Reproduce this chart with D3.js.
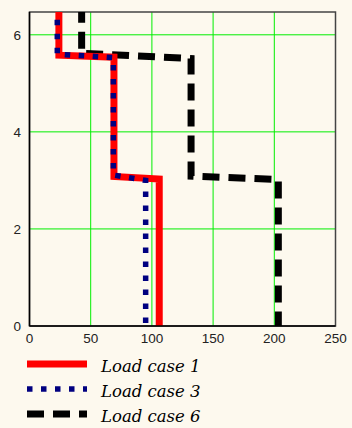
<!DOCTYPE html>
<html>
<head>
<meta charset="utf-8">
<script src="https://cdn.jsdelivr.net/npm/d3@7"></script>
<style>
  html, body { margin: 0; padding: 0; background: #fdf9ee; }
  svg { display: block; }
</style>
</head>
<body>
<div id="chart"></div>
<script>
// series data: x value (load), y value (height)
const lc1X = [24, 24, 69, 69, 106, 106];
const lc1Y = [6.6, 5.58, 5.54, 3.08, 3.03, 0];
const lc3X = [22.7, 22.7, 68.5, 68.5, 94.9, 94.9];
const lc3Y = [6.6, 5.6, 5.53, 3.11, 3.0, 0];
const lc6X = [42.6, 42.6, 132, 132, 203.3, 203.3];
const lc6Y = [6.6, 5.62, 5.51, 3.09, 3.02, 0];

const seriesNames = ['Load case 1', 'Load case 3', 'Load case 6'];
const xTicks = [0, 50, 100, 150, 200, 250];
const yTicks = [0, 2, 4, 6];

const width = 352, height = 428;
const margin = { top: 12, right: 16.5, bottom: 102, left: 29.5 };

const svg = d3.select('#chart').append('svg')
  .attr('width', width)
  .attr('height', height);

const x = d3.scaleLinear().domain([0, 250]).range([margin.left, width - margin.right]);
const y = d3.scaleLinear().domain([0, 6.47]).range([height - margin.bottom, margin.top]);

svg.append('defs').append('clipPath').attr('id', 'plot')
  .append('rect')
  .attr('x', x(0)).attr('y', y(6.47))
  .attr('width', x(250) - x(0)).attr('height', y(0) - y(6.47));

// grid
svg.append('g').selectAll('line')
  .data(xTicks.slice(1, -1))
  .join('line')
  .attr('x1', d => x(d)).attr('x2', d => x(d))
  .attr('y1', y(0)).attr('y2', y(6.47))
  .attr('stroke', '#00ee00').attr('stroke-width', 1);

svg.append('g').selectAll('line')
  .data(yTicks.slice(1))
  .join('line')
  .attr('x1', x(0)).attr('x2', x(250))
  .attr('y1', d => y(d)).attr('y2', d => y(d))
  .attr('stroke', '#00ee00').attr('stroke-width', 1);

// frame
svg.append('rect')
  .attr('x', x(0)).attr('y', y(6.47))
  .attr('width', x(250) - x(0)).attr('height', y(0) - y(6.47))
  .attr('fill', 'none').attr('stroke', '#444').attr('stroke-width', 1.5);

const styles = [
  { color: '#ff0000', width: 7, dash: null },
  { color: '#000080', width: 5.5, dash: '5.5,8.5' },
  { color: '#000000', width: 7, dash: '17,9' }
];
const series = [
  d3.zip(lc1X, lc1Y),
  d3.zip(lc3X, lc3Y),
  d3.zip(lc6X, lc6Y)
];

const line = d3.line().x(d => x(d[0])).y(d => y(d[1]));

const plot = svg.append('g').attr('clip-path', 'url(#plot)');
// black first, then red, then blue dots on top
[2, 0, 1].forEach(i => {
  plot.append('path')
    .datum(series[i])
    .attr('fill', 'none')
    .attr('stroke', styles[i].color)
    .attr('stroke-width', styles[i].width)
    .attr('stroke-dasharray', styles[i].dash)
    .attr('stroke-linejoin', 'miter')
    .attr('d', line);
});

// left / bottom axis lines
svg.append('line')
  .attr('x1', x(0)).attr('x2', x(0)).attr('y1', y(0)).attr('y2', y(6.47))
  .attr('stroke', '#000').attr('stroke-width', 1.5);
svg.append('line')
  .attr('x1', x(0)).attr('x2', x(250)).attr('y1', y(0)).attr('y2', y(0))
  .attr('stroke', '#000').attr('stroke-width', 1.5);

// tick labels
svg.append('g').selectAll('text')
  .data(xTicks)
  .join('text')
  .attr('x', d => x(d))
  .attr('y', y(0) + 17)
  .attr('text-anchor', 'middle')
  .style('font', '13.5px "Liberation Sans", Arial, sans-serif')
  .attr('fill', '#222')
  .text(d => d);

svg.append('g').selectAll('text')
  .data(yTicks)
  .join('text')
  .attr('x', 21)
  .attr('y', d => y(d) + 5)
  .attr('text-anchor', 'end')
  .style('font', '13.5px "Liberation Sans", Arial, sans-serif')
  .attr('fill', '#222')
  .text(d => d);

// legend
const legend = svg.append('g');
seriesNames.forEach((name, i) => {
  const ly = 364 + i * 25;
  legend.append('line')
    .attr('x1', 27).attr('x2', 87)
    .attr('y1', ly).attr('y2', ly)
    .attr('stroke', styles[i].color)
    .attr('stroke-width', styles[i].width)
    .attr('stroke-dasharray', styles[i].dash);
  legend.append('text')
    .attr('x', 101)
    .attr('y', ly + 8)
    .style('font', 'italic 16.5px "DejaVu Serif", serif')
    .attr('fill', '#000')
    .text(name);
});
</script>
</body>
</html>
